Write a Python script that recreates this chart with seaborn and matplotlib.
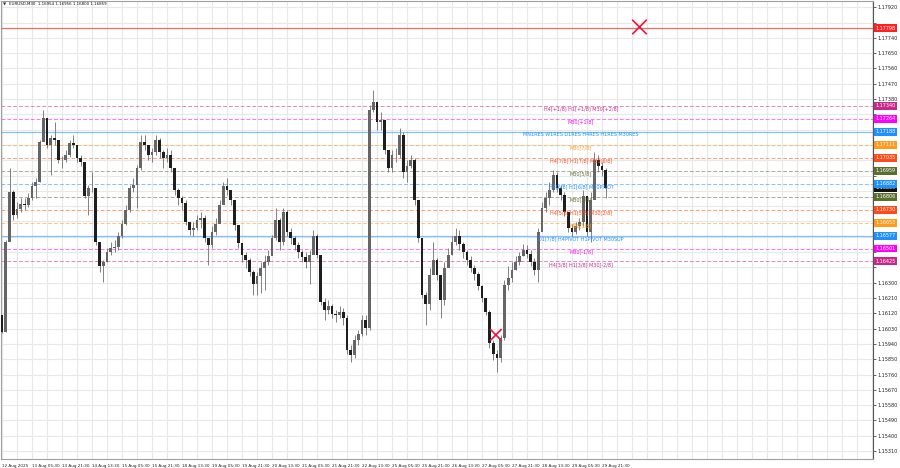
import numpy as np
import matplotlib
matplotlib.use("Agg")
import matplotlib.pyplot as plt
from matplotlib.ticker import MultipleLocator
import seaborn as sns

# --- data (one candle = 4 x M30 bars) ---
SYMBOL = "EURUSD,M30"
QUOTE = "1.16954 1.16956 1.16800 1.16859"

date_labels = ["12 Aug 2025", "13 Aug 05:30", "13 Aug 21:30", "14 Aug 13:30",
               "15 Aug 05:30", "15 Aug 21:30", "18 Aug 13:30", "19 Aug 05:30",
               "19 Aug 21:30", "20 Aug 13:30", "21 Aug 05:30", "21 Aug 21:30",
               "22 Aug 13:30", "25 Aug 05:30", "25 Aug 21:30", "26 Aug 13:30",
               "27 Aug 05:30", "27 Aug 21:30", "28 Aug 13:30", "29 Aug 05:30",
               "29 Aug 21:30"]

first_open = 1.16110
closes = [
    1.16010, 1.16539, 1.16833, 1.16698, 1.16733, 1.16762, 1.16757, 1.16798, 1.16869, 1.16892,
    1.17127, 1.17269, 1.17110, 1.17151, 1.17139, 1.17022, 1.17022, 1.17051, 1.17121, 1.17110,
    1.17033, 1.17010, 1.16810, 1.16857, 1.16857, 1.16539, 1.16398, 1.16421, 1.16480, 1.16504,
    1.16510, 1.16575, 1.16645, 1.16727, 1.16857, 1.16875, 1.16975, 1.17127, 1.17110, 1.17051,
    1.17068, 1.17139, 1.17068, 1.17033, 1.17051, 1.16975, 1.16845, 1.16798, 1.16768, 1.16657,
    1.16610, 1.16622, 1.16669, 1.16680, 1.16563, 1.16522, 1.16598, 1.16645, 1.16757, 1.16869,
    1.16845, 1.16786, 1.16640, 1.16533, 1.16463, 1.16433, 1.16362, 1.16292, 1.16339, 1.16386,
    1.16421, 1.16457, 1.16563, 1.16669, 1.16539, 1.16715, 1.16598, 1.16563, 1.16522, 1.16480,
    1.16451, 1.16421, 1.16463, 1.16575, 1.16463, 1.16186, 1.16139, 1.16163, 1.16115, 1.16110,
    1.16127, 1.16092, 1.15904, 1.15875, 1.15963, 1.15998, 1.16080, 1.16033, 1.17316, 1.17363,
    1.17245, 1.17257, 1.17080, 1.16975, 1.17051, 1.17051, 1.17169, 1.16951, 1.16987, 1.17022,
    1.16786, 1.16563, 1.16228, 1.16174, 1.16345, 1.16433, 1.16345, 1.16198, 1.16386, 1.16463,
    1.16539, 1.16575, 1.16527, 1.16480, 1.16433, 1.16386, 1.16350, 1.16281, 1.16210, 1.16127,
    1.15945, 1.15880, 1.15857, 1.15975, 1.16287, 1.16327, 1.16374, 1.16421, 1.16457, 1.16492,
    1.16468, 1.16421, 1.16374, 1.16598, 1.16739, 1.16798, 1.16845, 1.16934, 1.16857, 1.16816,
    1.16715, 1.16622, 1.16598, 1.16634, 1.16657, 1.16810, 1.16598, 1.16786, 1.17022, 1.16987,
    1.16963, 1.16859,
]
highs = [
    1.16110, 1.16551, 1.16975, 1.16845, 1.16774, 1.16798, 1.16798, 1.16827, 1.16892, 1.16916,
    1.17139, 1.17316, 1.17269, 1.17169, 1.17245, 1.17139, 1.17045, 1.17080, 1.17139, 1.17169,
    1.17110, 1.17051, 1.16993, 1.16875, 1.16951, 1.16845, 1.16527, 1.16433, 1.16504, 1.16539,
    1.16551, 1.16598, 1.16669, 1.16757, 1.16875, 1.16916, 1.16993, 1.17169, 1.17169, 1.17110,
    1.17092, 1.17169, 1.17151, 1.17080, 1.17092, 1.17080, 1.16963, 1.16857, 1.16810, 1.16786,
    1.16657, 1.16657, 1.16698, 1.16715, 1.16698, 1.16563, 1.16634, 1.16680, 1.16786, 1.16892,
    1.16916, 1.16845, 1.16786, 1.16622, 1.16522, 1.16480, 1.16445, 1.16374, 1.16362, 1.16421,
    1.16463, 1.16492, 1.16581, 1.16739, 1.16680, 1.16739, 1.16727, 1.16622, 1.16575, 1.16539,
    1.16492, 1.16480, 1.16492, 1.16610, 1.16586, 1.16463, 1.16210, 1.16198, 1.16174, 1.16139,
    1.16163, 1.16151, 1.16110, 1.15934, 1.15993, 1.16022, 1.16110, 1.16110, 1.17346, 1.17434,
    1.17346, 1.17304, 1.17228, 1.17080, 1.17080, 1.17092, 1.17210, 1.17186, 1.17022, 1.17051,
    1.17033, 1.16786, 1.16563, 1.16245, 1.16386, 1.16539, 1.16445, 1.16316, 1.16421, 1.16504,
    1.16575, 1.16622, 1.16610, 1.16539, 1.16492, 1.16457, 1.16404, 1.16362, 1.16287, 1.16210,
    1.16139, 1.15963, 1.15904, 1.15993, 1.16316, 1.16398, 1.16421, 1.16457, 1.16480, 1.16527,
    1.16522, 1.16492, 1.16445, 1.16622, 1.16774, 1.16833, 1.16892, 1.16963, 1.16951, 1.16875,
    1.16833, 1.16715, 1.16645, 1.16657, 1.16680, 1.16845, 1.16798, 1.16833, 1.17068, 1.17051,
    1.17010, 1.16975,
]
lows = [
    1.16004, 1.16010, 1.16551, 1.16669, 1.16680, 1.16715, 1.16727, 1.16745, 1.16786, 1.16798,
    1.16892, 1.17151, 1.17092, 1.16934, 1.17110, 1.17004, 1.16975, 1.17010, 1.17039, 1.17092,
    1.17010, 1.16987, 1.16798, 1.16698, 1.16833, 1.16522, 1.16362, 1.16304, 1.16421, 1.16463,
    1.16480, 1.16492, 1.16563, 1.16640, 1.16715, 1.16833, 1.16739, 1.16963, 1.17080, 1.17022,
    1.17010, 1.17051, 1.17033, 1.16975, 1.17010, 1.16951, 1.16816, 1.16757, 1.16727, 1.16640,
    1.16581, 1.16575, 1.16610, 1.16622, 1.16539, 1.16404, 1.16504, 1.16581, 1.16657, 1.16798,
    1.16816, 1.16757, 1.16610, 1.16504, 1.16421, 1.16386, 1.16339, 1.16228, 1.16228, 1.16240,
    1.16257, 1.16404, 1.16463, 1.16551, 1.16492, 1.16522, 1.16575, 1.16527, 1.16492, 1.16445,
    1.16421, 1.16386, 1.16292, 1.16492, 1.16445, 1.16169, 1.16080, 1.16115, 1.16092, 1.16068,
    1.16092, 1.16051, 1.15880, 1.15833, 1.15857, 1.15934, 1.15987, 1.15993, 1.16022, 1.17304,
    1.17198, 1.17198, 1.17057, 1.16951, 1.16951, 1.17010, 1.17033, 1.16916, 1.16892, 1.16975,
    1.16757, 1.16539, 1.16210, 1.16051, 1.16139, 1.16374, 1.16316, 1.16092, 1.16169, 1.16404,
    1.16463, 1.16522, 1.16492, 1.16445, 1.16404, 1.16362, 1.16316, 1.16257, 1.16186, 1.16110,
    1.15916, 1.15845, 1.15774, 1.15833, 1.15963, 1.16257, 1.16304, 1.16374, 1.16404, 1.16457,
    1.16445, 1.16398, 1.16345, 1.16304, 1.16610, 1.16715, 1.16757, 1.16833, 1.16833, 1.16786,
    1.16692, 1.16598, 1.16575, 1.16586, 1.16610, 1.16634, 1.16575, 1.16539, 1.16857, 1.16951,
    1.16928, 1.16798,
]

# Murrey-math levels drawn by the indicator
level_prices = [1.17340, 1.17264, 1.17188, 1.17111, 1.17035, 1.16959, 1.16882,
                1.16806, 1.16730, 1.16653, 1.16577, 1.16501, 1.16425]
level_names = ["H4[+1/8] H1[+1/8] M30[+2/8]", "M30[+1/8]",
               "MN1RES W1RES D1RES H4RES H1RES M30RES", "M30[7/8]",
               "H4[7/8] H1[7/8] M30[6/8]", "M30[5/8]", "H4[6/8] H1[6/8] M30PIVOT",
               "M30[3/8]", "H4[5/8] H1[5/8] M30[2/8]", "M30[1/8]",
               "D1[7/8] H4PIVOT H1PIVOT M30SUP", "M30[-1/8]", "H4[3/8] H1[3/8] M30[-2/8]"]
level_colors = ["#c8288c", "#ff00ff", "#1e90ff", "#ff9a1a", "#ff4a1a", "#5b6e2e", "#1e90ff",
                "#5b6e2e", "#ff4a1a", "#ff9a1a", "#1e90ff", "#ff00ff", "#c8288c"]
level_solid = [False, False, True, False, False, False, False,
               False, False, False, True, False, False]

hline_price = 1.17798
bid_price = 1.16859
cross_x = [170.0, 131.7]
cross_y = [1.17804, 1.15993]
cross_size = [2, 1]

# --- figure ---
sns.set_theme(style="white")
plt.rcParams["font.family"] = ["DejaVu Sans"]

fig = plt.figure(figsize=(9, 4.68), dpi=100)
ax = fig.add_axes([1 / 900, 9 / 468, 872 / 900, 458 / 468])

n = len(closes)
xs = np.arange(n)
opens = np.array([first_open] + closes[:-1])
c = np.array(closes)
up = c >= opens

box_prices = [hline_price, bid_price] + level_prices

# grid / axes
ax.set_xlim(-0.27, 232.27)
ax.set_ylim(1.15263, 1.17957)
yt = np.round(np.arange(1.15310, 1.17925, 0.0009), 5)
ax.set_yticks(yt)
# tick labels hidden behind a price box are left blank
ax.set_yticklabels(["" if min(abs(v - b) for b in box_prices) < 0.00036 else f"{v:.5f}"
                    for v in yt])
ax.yaxis.tick_right()
ax.set_xticks(np.arange(len(date_labels)) * 8)
ax.set_xticklabels(date_labels, fontsize=3.0)
for lbl in ax.get_xticklabels():
    lbl.set_horizontalalignment("left")
ax.xaxis.set_minor_locator(MultipleLocator(4))
ax.grid(True, which="both", color="#e8e8e8", lw=0.8)
ax.tick_params(axis="y", which="major", labelsize=3.5, length=2, width=0.5,
               pad=1.5, colors="#222222", direction="out")
ax.tick_params(axis="x", which="major", length=2, width=0.5,
               pad=1.5, colors="#222222", direction="out")
ax.tick_params(axis="both", which="minor", length=0)
for s in ax.spines.values():
    s.set_color("#a0a0a0")
    s.set_linewidth(0.8)
ax.spines["right"].set_color("#555555")

# levels
for p, name, col, solid in zip(level_prices, level_names, level_colors, level_solid):
    ls = "-" if solid else (0, (4, 2))
    ax.axhline(p, color=col, lw=0.9 if solid else 0.7, ls=ls, alpha=0.55, zorder=1)
    ax.text(154.4, p - 0.00003, name, color=col, fontsize=3.5, ha="center", va="top", zorder=4)
ax.axhline(hline_price, color="#f26d5b", lw=0.9, zorder=1)

# candles
ax.vlines(xs, lows, highs, color="#6e6e6e", lw=0.6, zorder=2)
body = np.maximum(np.abs(c - opens), 0.00002)
ax.bar(xs, body, bottom=np.minimum(opens, c), width=0.7,
       color=np.where(up, "#666666", "#1e1e1e"), edgecolor="none", zorder=3)

# markers
sns.scatterplot(x=cross_x, y=cross_y, size=cross_size, sizes=(70, 110), marker="x",
                color="#e8173c", linewidth=1.2, legend=False, ax=ax, zorder=5)


# price boxes on the right scale
def price_box(p, col, txt_col="white"):
    ax.annotate(f"{p:.5f}", xy=(1.0, p), xycoords=("axes fraction", "data"),
                xytext=(2.0, 0), textcoords="offset points", fontsize=3.5,
                color=txt_col, va="center", ha="left", annotation_clip=False, zorder=6,
                bbox=dict(boxstyle="square,pad=0.3", fc=col, ec="none"))


price_box(bid_price, "#111111")
price_box(hline_price, "#ff2020")
for p, col in zip(level_prices, level_colors):
    price_box(p, col)

fig.text(3 / 900, 1 - 4 / 468, "\u25bc", fontsize=3, va="center", color="#333333")
fig.text(9 / 900, 1 - 4 / 468, f"{SYMBOL}  {QUOTE}", fontsize=2.9, va="center",
         color="#111111")

fig.savefig("out.png", dpi=100, facecolor="white")
